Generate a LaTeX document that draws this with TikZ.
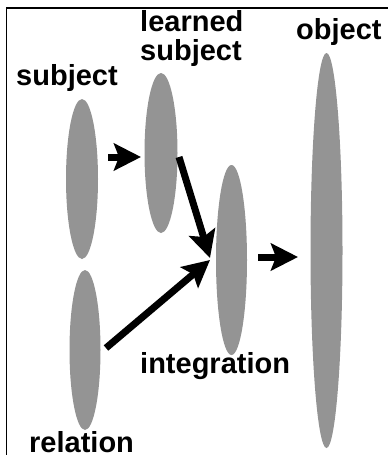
\documentclass[tikz,border=0pt]{standalone}
\usepackage{fontspec}
\setmainfont{Liberation Sans}
\usetikzlibrary{shapes.geometric,arrows.meta}
\definecolor{blobgray}{RGB}{148,148,148}
\tikzset{
  blob/.style={ellipse, fill=blobgray, draw=none, inner sep=0pt},
  lbl/.style={anchor=base west, inner sep=0pt, font=\fontsize{29}{29}\selectfont\bfseries},
  bigarrow/.style={line width=7pt, -{Stealth[length=27pt, width=27pt, inset=5pt]}}
}
\begin{document}
\begin{tikzpicture}[x=1pt, y=-1pt]
\useasboundingbox (0,0) rectangle (388,455);
% frame (left and top)
\draw[line width=1.3pt] (6.5,455) -- (6.5,8) -- (388,8);
% ellipses
\node[blob, minimum width=32pt, minimum height=160pt] (subj) at (82,179) {};
\node[blob, minimum width=31pt, minimum height=160pt] (rel) at (85,350) {};
\node[blob, minimum width=33pt, minimum height=160pt] (lsub) at (161,153) {};
\node[blob, minimum width=31pt, minimum height=190pt] (integ) at (231.5,260) {};
\node[blob, minimum width=32pt, minimum height=395pt] (obj) at (326.5,250.5) {};
% labels
\node[lbl] (tsubj) at (16,85) {subject};
\node[lbl] (tlearned) at (140,31) {learned};
\node[lbl] (tlsub) at (140,60) {subject};
\node[lbl] (tobj) at (296,39) {object};
\node[lbl] (tinteg) at (140,373) {integration};
\node[lbl] (trel) at (29,452) {relation};
% arrow end points
\coordinate (a1s) at (108,157);
\coordinate (a1e) at (141,157);
\coordinate (a2s) at (179,157);
\coordinate (a2e) at (210,258);
\coordinate (a3s) at (106,348);
\coordinate (a3e) at (210,260);
\coordinate (a4s) at (258,257);
\coordinate (a4e) at (298,257);
\draw[bigarrow] (a1s) -- (a1e);
\draw[bigarrow] (a2s) -- (a2e);
\draw[bigarrow] (a3s) -- (a3e);
\draw[bigarrow] (a4s) -- (a4e);
\end{tikzpicture}
\end{document}
